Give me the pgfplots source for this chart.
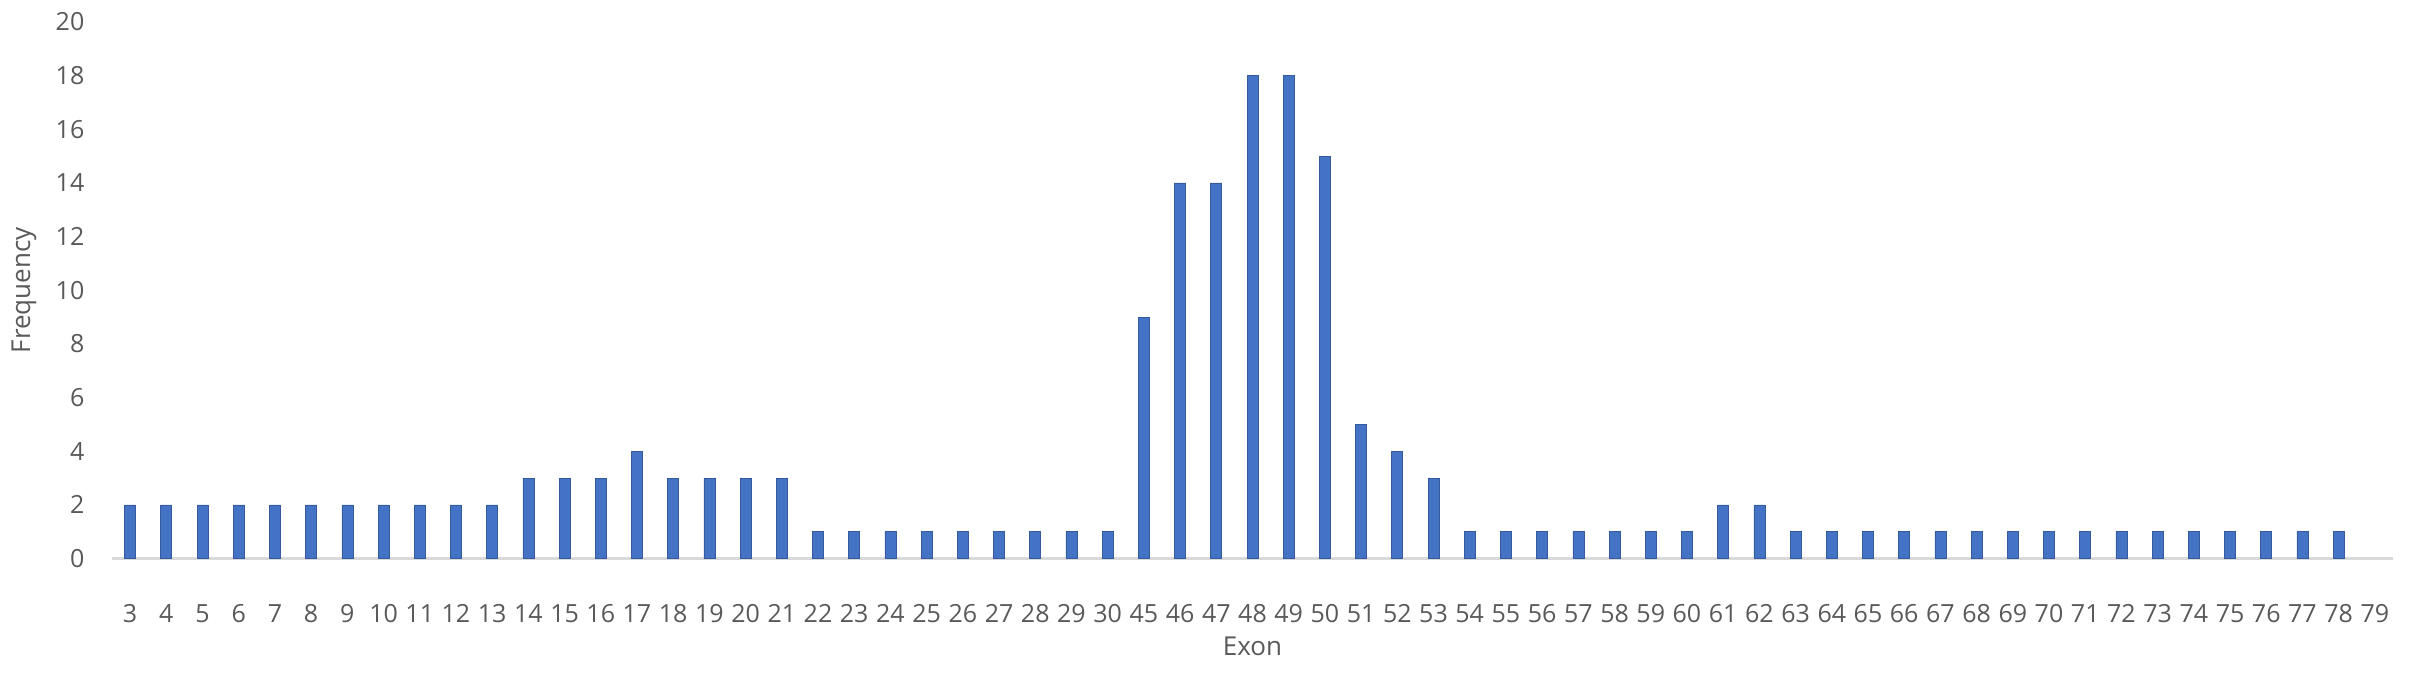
\documentclass[border=0pt]{standalone}
\usepackage{pgfplots}
\pgfplotsset{compat=1.18}
\usepackage{fontspec}
\setmainfont{Open Sans}
\definecolor{barblue}{HTML}{4472C4}
\definecolor{txtgray}{HTML}{595959}
\definecolor{axgray}{HTML}{D9D9D9}
\begin{document}
\begin{tikzpicture}
\begin{axis}[
  anchor=south west, at={(0,0)},
  width=684.3pt, height=160.95pt, scale only axis,
  xmin=-0.5, xmax=62.5, ymin=0, ymax=20,
  ybar, bar width=3.3pt,
  axis x line*=bottom, axis y line*=left,
  x axis line style={axgray, line width=0.7pt, -},
  y axis line style={draw=none},
  xtick={0,1,...,62}, xtick style={draw=none}, ytick style={draw=none},
  xticklabels={3,4,5,6,7,8,9,10,11,12,13,14,15,16,17,18,19,20,21,22,23,24,25,26,27,28,29,30,45,46,47,48,49,50,51,52,53,54,55,56,57,58,59,60,61,62,63,64,65,66,67,68,69,70,71,72,73,74,75,76,77,78,79},
  ytick={0,2,...,20},
  /pgf/number format/assume math mode=true,
  tick label style={font=\fontsize{7.5}{9}\selectfont, text=txtgray},
  x tick label style={anchor=center, inner sep=0pt, yshift=-12.15pt},
  y tick label style={anchor=east, inner sep=0pt, xshift=-8.1pt},
  xlabel={Exon}, ylabel={Frequency},
  xlabel style={font=\fontsize{7.8}{9}\selectfont, text=txtgray, at={(axis description cs:0.5,0)}, anchor=center, inner sep=0pt, yshift=-26.25pt},
  ylabel style={font=\fontsize{7.8}{9}\selectfont, text=txtgray, at={(axis description cs:0,0.5)}, anchor=center, inner sep=0pt, rotate=0, yshift=26.4pt},
  clip=false,
]
\addplot[fill=barblue, draw=barblue!80!black, line width=0.2pt] coordinates {
(0,2) (1,2) (2,2) (3,2) (4,2) (5,2) (6,2) (7,2) (8,2) (9,2) (10,2)
(11,3) (12,3) (13,3) (14,4) (15,3) (16,3) (17,3) (18,3)
(19,1) (20,1) (21,1) (22,1) (23,1) (24,1) (25,1) (26,1) (27,1)
(28,9) (29,14) (30,14) (31,18) (32,18) (33,15) (34,5) (35,4) (36,3)
(37,1) (38,1) (39,1) (40,1) (41,1) (42,1) (43,1)
(44,2) (45,2)
(46,1) (47,1) (48,1) (49,1) (50,1) (51,1) (52,1) (53,1) (54,1) (55,1) (56,1) (57,1) (58,1) (59,1) (60,1) (61,1)
};
\end{axis}
\pgfresetboundingbox
\useasboundingbox (-33.6pt,-34.95pt) rectangle (689.4pt,167.55pt);
\end{tikzpicture}
\end{document}
